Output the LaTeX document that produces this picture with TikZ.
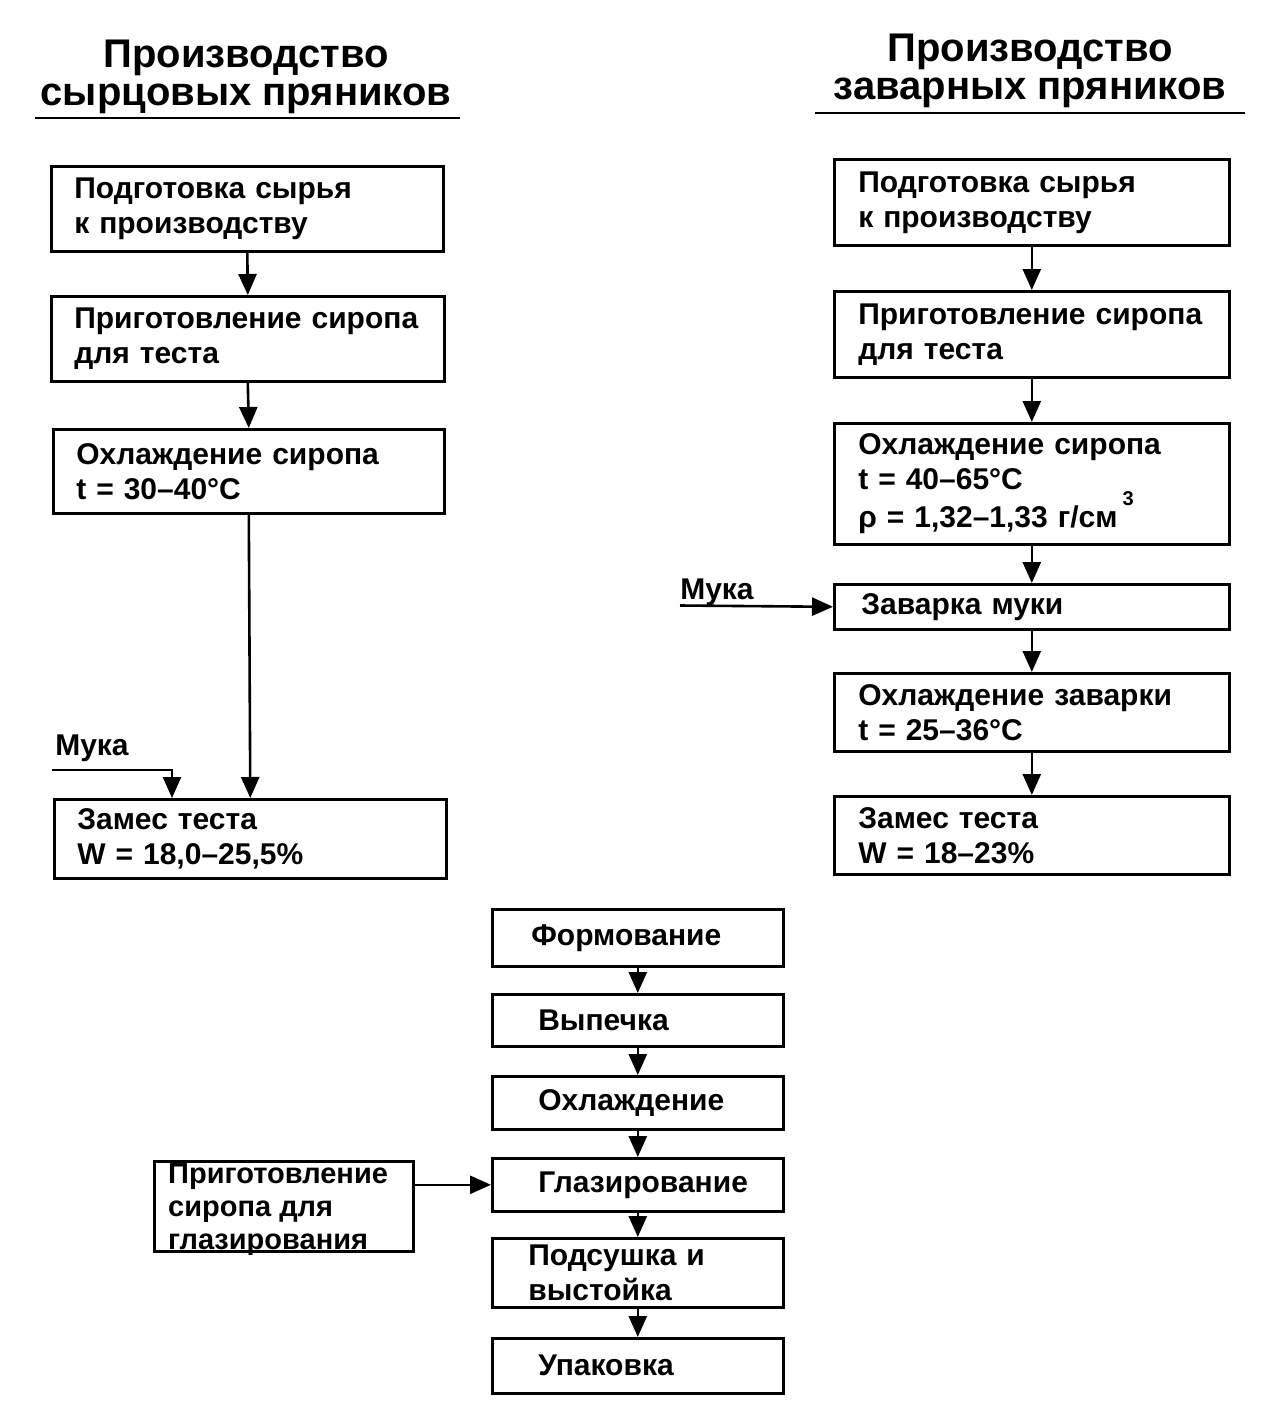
\documentclass[tikz,border=0pt]{standalone}
\usepackage{fontspec}
\setmainfont{Liberation Sans}
\usetikzlibrary{arrows.meta}
\begin{document}
\begin{tikzpicture}[x=1pt,y=-1pt,
  box/.style={draw, line width=2.6pt, rectangle, inner ysep=0pt, align=left, anchor=north west, font=\bfseries\fontsize{30}{35}\selectfont},
  arr/.style={line width=2.6pt, -{Triangle[width=18pt,length=21pt]}},
  ln/.style={line width=2.6pt},
  ttl/.style={font=\bfseries\fontsize{40}{38}\selectfont, align=center},
  lbl/.style={font=\bfseries\fontsize{30}{35}\selectfont, inner sep=0pt}]
\useasboundingbox (0,0) rectangle (1267,1427);
% titles
\node[ttl] (t1) at (246,77) {Производство\\сырцовых пряников};
\node[ttl] (t2) at (1030,71) {Производство\\заварных пряников};
\coordinate (u1a) at (35,118); \coordinate (u1b) at (460,118);
\coordinate (u2a) at (815,113); \coordinate (u2b) at (1245,113);
\draw[ln] (u1a) -- (u1b);
\draw[ln] (u2a) -- (u2b);
% left column
\node[box, inner xsep=23pt, text width=346pt, minimum height=85pt] (l1) at (50,165) {Подготовка сырья\\к производству};
\node[box, inner xsep=23pt, text width=347pt, minimum height=85pt] (l2) at (50,295) {Приготовление сиропа\\для теста};
\node[box, inner xsep=23pt, text width=345pt, minimum height=84pt] (l3) at (52,428) {Охлаждение сиропа\\t = 30–40°C};
\node[box, inner xsep=23pt, text width=346pt, minimum height=79pt] (l4) at (53,798) {Замес теста\\W = 18,0–25,5\%};
\draw[arr] (l1.south) -- (l2.north);
\draw[arr] (l2.south) -- (l3.north);
\draw[arr] (l3.south) -- (l4.north);
\node[lbl] (m1) at (92,748) {Мука};
\coordinate (m1s) at (52,770);
\coordinate (m1c) at (172,770);
\draw[arr] (m1s) -- (m1c) -- (m1c |- l4.north);
% right column
\node[box, inner xsep=24pt, text width=347pt, minimum height=86pt] (r1) at (833,158) {Подготовка сырья\\к производству};
\node[box, inner xsep=24pt, text width=347pt, minimum height=86pt] (r2) at (833,290) {Приготовление сиропа\\для теста};
\node[box, inner xsep=24pt, text width=347pt, minimum height=121pt] (r3) at (833,422) {Охлаждение сиропа\\t = 40–65°C\\ρ = 1,32–1,33 г/см\,\raisebox{0.75em}{\fontsize{20}{20}\selectfont 3}};
\node[box, inner xsep=27pt, text width=341pt, minimum height=45pt] (r4) at (833,583) {Заварка муки};
\node[box, inner xsep=24pt, text width=347pt, minimum height=78pt] (r5) at (833,672) {Охлаждение заварки\\t = 25–36°C};
\node[box, inner xsep=24pt, text width=347pt, minimum height=78pt] (r6) at (833,795) {Замес теста\\W = 18–23\%};
\draw[arr] (r1.south) -- (r2.north);
\draw[arr] (r2.south) -- (r3.north);
\draw[arr] (r3.south) -- (r4.north);
\draw[arr] (r4.south) -- (r5.north);
\draw[arr] (r5.south) -- (r6.north);
\node[lbl] (m2) at (717,592) {Мука};
\coordinate (m2s) at (680,605.5);
\draw[arr] (m2s) -- (r4.west);
% center column
\node[box, inner xsep=39pt, text width=213pt, minimum height=57pt] (c1) at (491,908) {\raisebox{5pt}{Формование}};
\node[box, inner xsep=46pt, text width=199pt, minimum height=52pt] (c2) at (491,993) {Выпечка};
\node[box, inner xsep=46pt, text width=199pt, minimum height=53pt] (c3) at (491,1075) {Охлаждение};
\node[box, inner xsep=46pt, text width=199pt, minimum height=53pt] (c4) at (491,1157) {Глазирование};
\node[box, inner xsep=36pt, text width=219pt, minimum height=69pt] (c5) at (491,1237) {Подсушка и\\выстойка};
\node[box, inner xsep=46pt, text width=199pt, minimum height=55pt] (c6) at (491,1337) {Упаковка};
\draw[arr] (c1.south) -- (c2.north);
\draw[arr] (c2.south) -- (c3.north);
\draw[arr] (c3.south) -- (c4.north);
\draw[arr] (c4.south) -- (c5.north);
\draw[arr] (c5.south) -- (c6.north);
\node[draw, line width=2.6pt, rectangle, anchor=north west, minimum width=259pt, minimum height=90pt, inner sep=0pt] (g) at (153,1160) {};
\node[lbl, align=left, anchor=west, font=\bfseries\fontsize{29}{33}\selectfont] (gt) at ([xshift=15pt,yshift=-3pt]g.west) {Приготовление\\сиропа для\\глазирования};
\draw[arr] (g.east |- c4.west) -- (c4.west);
\end{tikzpicture}
\end{document}
